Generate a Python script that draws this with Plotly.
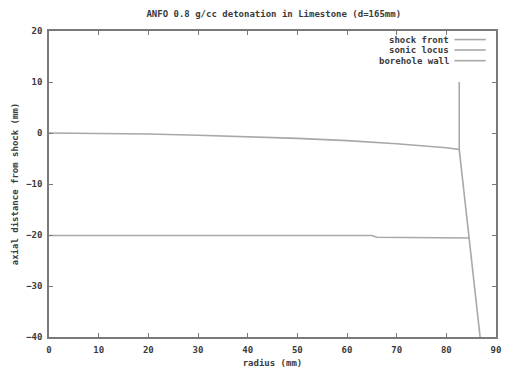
import plotly.graph_objects as go

# Shock front: curved front in the explosive, then the transmitted shock in the rock
shock_r = [0, 10, 20, 30, 40, 50, 60, 70, 80, 82.6, 86.8]
shock_z = [0, -0.05, -0.2, -0.45, -0.75, -1.05, -1.5, -2.1, -2.9, -3.25, -40]

# Sonic locus
sonic_r = [0, 65, 66, 84.6]
sonic_z = [-20.1, -20.1, -20.45, -20.6]

# Borehole wall (r = 82.5 mm)
wall_r = [82.6, 82.6]
wall_z = [10, -3.25]

x_ticks = [0, 10, 20, 30, 40, 50, 60, 70, 80, 90]
y_ticks = [20, 10, 0, -10, -20, -30, -40]

series = [
    ("shock front", shock_r, shock_z),
    ("sonic locus", sonic_r, sonic_z),
    ("borehole wall", wall_r, wall_z),
]

LINE = "#a8a8a8"
FRAME = "#7a7a7a"
TEXT = "#3a3a3a"
FONT = "DejaVu Sans Mono"
bold = dict(family=FONT, size=9, color=TEXT, weight="bold")

fig = go.Figure()
for name, r, z in series:
    fig.add_trace(go.Scatter(x=r, y=z, mode="lines", name=name,
                             line=dict(color=LINE, width=1.6), showlegend=False))

# gnuplot-style key: text right-aligned, sample line to its right
key_y = [0.972, 0.938, 0.903]
for (name, _, _), ky in zip(series, key_y):
    fig.add_annotation(x=0.9, y=ky, xref="paper", yref="paper", text=name,
                       showarrow=False, xanchor="right", yanchor="middle",
                       font=bold)
    fig.add_shape(type="line", xref="paper", yref="paper",
                  x0=0.907, x1=0.977, y0=ky, y1=ky,
                  line=dict(color=LINE, width=1.6))

axis_common = dict(
    showgrid=False, zeroline=False, showline=True, linecolor=FRAME, linewidth=1.5,
    mirror="ticks", ticks="inside", ticklen=4, tickcolor=FRAME, tickwidth=1,
    tickfont=bold, ticklabelstandoff=3,
)

fig.update_layout(
    width=507, height=373,
    margin=dict(l=49, r=6, t=31, b=35),
    paper_bgcolor="white", plot_bgcolor="white",
    title=dict(text="ANFO 0.8 g/cc detonation in Limestone (d=165mm)",
               x=0.54, xanchor="center", y=0.962, yanchor="middle",
               font=bold),
    xaxis=dict(range=[0, 90], tickvals=x_ticks,
               title=dict(text="radius (mm)", standoff=6, font=bold),
               **axis_common),
    yaxis=dict(range=[-40, 20], tickvals=y_ticks,
               title=dict(text="axial distance from shock (mm)", standoff=6, font=bold),
               **axis_common),
)

fig.write_html("out.html")
